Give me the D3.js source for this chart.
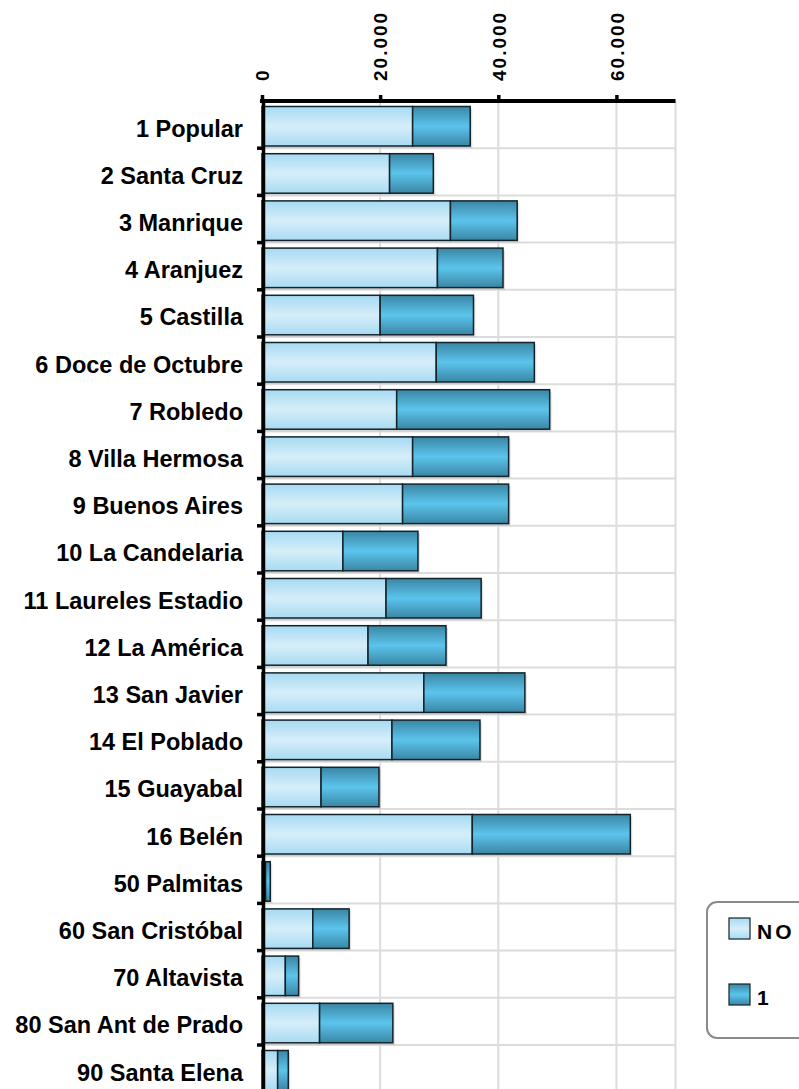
<!DOCTYPE html>
<html>
<head>
<meta charset="utf-8">
<script src="https://cdn.jsdelivr.net/npm/d3@7"></script>
<style>
  body { margin: 0; background: #fff; }
  svg { display: block; font-family: "Liberation Sans", Arial, sans-serif; }
</style>
</head>
<body>
<svg id="chart" width="799" height="1089"></svg>
<script>
// comunas / corregimientos
const categories = [
  "1 Popular", "2 Santa Cruz", "3 Manrique", "4 Aranjuez", "5 Castilla",
  "6 Doce de Octubre", "7 Robledo", "8 Villa Hermosa", "9 Buenos Aires",
  "10 La Candelaria", "11 Laureles Estadio", "12 La América", "13 San Javier",
  "14 El Poblado", "15 Guayabal", "16 Belén", "50 Palmitas", "60 San Cristóbal",
  "70 Altavista", "80 San Ant de Prado", "90 Santa Elena"
];
const seriesNames = ["NO", "1"];
const noValues = [25500, 21600, 31900, 29700, 20000, 29500, 22800, 25500, 23800,
  13700, 21000, 17950, 27400, 22000, 10000, 35600, 600, 8600, 3950, 9750, 2650];
const oneValues = [9750, 7400, 11300, 11100, 15800, 16600, 25900, 16250, 17950,
  12700, 16100, 13200, 17100, 14900, 9800, 26750, 800, 6150, 2250, 12400, 1800];
const tickValues = [0, 20000, 40000, 60000];
const xMax = 70000;

class StackedBar {
  constructor(_config) {
    this.config = {
      parentElement: _config.parentElement,
      rowHeight: _config.rowHeight || 47.2
    };
    this.config.margin = _config.margin || { top: 101, left: 262 };
    this.initVis();
  }

  initVis() {
    let vis = this;
    vis.svg = d3.select(vis.config.parentElement);

    vis.data = categories.map((c, i) => ({ cat: c, NO: noValues[i], "1": oneValues[i] }));

    vis.xScale = d3.scaleLinear().domain([0, xMax]).range([vis.config.margin.left, 675.5]);
    vis.yScale = d3.scaleBand()
      .domain(categories)
      .range([vis.config.margin.top, vis.config.margin.top + categories.length * vis.config.rowHeight]);

    vis.fmt = d3.formatLocale({ decimal: ",", thousands: ".", grouping: [3], currency: ["$", ""] }).format(",");

    // gradients for the bars
    let defs = vis.svg.append("defs");
    let grads = {
      NO: ["#a6daf2", "#d6eef9", "#a9dbf2"],
      "1": ["#3a86a4", "#5cc4ec", "#3a86a4"]
    };
    seriesNames.forEach((k, i) => {
      let g = defs.append("linearGradient")
        .attr("id", "grad" + i)
        .attr("x1", 0).attr("y1", 0).attr("x2", 0).attr("y2", 1);
      g.append("stop").attr("offset", "0%").attr("stop-color", grads[k][0]);
      g.append("stop").attr("offset", "50%").attr("stop-color", grads[k][1]);
      g.append("stop").attr("offset", "100%").attr("stop-color", grads[k][2]);
    });

    vis.render();
    vis.drawLegend();
  }

  render() {
    let vis = this;
    let x = vis.xScale, y = vis.yScale;
    let bottom = y.range()[1];

    // grid
    let grid = vis.svg.append("g").attr("stroke", "#dcdcdc").attr("stroke-width", 2);
    grid.selectAll(".vgrid")
      .data(tickValues.slice(1).concat([xMax]))
      .enter().append("line")
      .attr("x1", d => x(d)).attr("x2", d => x(d))
      .attr("y1", vis.config.margin.top).attr("y2", bottom);
    grid.selectAll(".hgrid")
      .data(categories.slice(1))
      .enter().append("line")
      .attr("x1", x(0)).attr("x2", x(xMax))
      .attr("y1", d => y(d)).attr("y2", d => y(d));

    let stacked = d3.stack().keys(seriesNames)(vis.data);
    let barTop = 5.5, barH = 39.5;

    // soft shadow
    vis.svg.append("g").selectAll("rect")
      .data(vis.data)
      .enter().append("rect")
      .attr("x", x(0) + 2)
      .attr("y", d => y(d.cat) + barTop + 2)
      .attr("width", d => x(d.NO + d["1"]) - x(0))
      .attr("height", barH)
      .attr("fill", "#000")
      .attr("fill-opacity", 0.12);

    vis.svg.selectAll(".series")
      .data(stacked)
      .enter().append("g")
      .attr("class", "series")
      .attr("fill", (d, i) => `url(#grad${i})`)
      .selectAll("rect")
      .data(d => d)
      .enter().append("rect")
      .attr("x", d => x(d[0]))
      .attr("y", d => y(d.data.cat) + barTop)
      .attr("width", d => x(d[1]) - x(d[0]))
      .attr("height", barH)
      .attr("stroke", "#13232b")
      .attr("stroke-width", 1.5);

    // top axis
    let axis = vis.svg.append("g")
      .attr("transform", `translate(0,${vis.config.margin.top})`)
      .call(d3.axisTop(x).tickValues(tickValues).tickSize(6).tickSizeOuter(0).tickFormat(vis.fmt));
    axis.select(".domain").attr("stroke", "#000").attr("stroke-width", 4)
      .attr("d", `M${x(0) - 2},0H${x(xMax)}`);
    axis.selectAll(".tick line").attr("stroke", "#000").attr("stroke-width", 3.5);
    axis.selectAll(".tick text")
      .attr("transform", "rotate(-90)")
      .attr("x", 20).attr("y", 0).attr("dy", "0.36em")
      .attr("text-anchor", "start")
      .attr("fill", "#000")
      .style("font-size", "19px")
      .style("font-weight", "bold")
      .style("letter-spacing", "2px")
      .style("font-family", "Liberation Sans, Arial, sans-serif");

    // left axis
    let left = vis.svg.append("g");
    left.append("line")
      .attr("x1", x(0) + 1.5).attr("x2", x(0) + 1.5)
      .attr("y1", vis.config.margin.top).attr("y2", bottom)
      .attr("stroke", "#000").attr("stroke-width", 3.5);
    left.selectAll(".ltick")
      .data(categories.slice(1))
      .enter().append("line")
      .attr("x1", x(0) - 5).attr("x2", x(0) + 2)
      .attr("y1", d => y(d)).attr("y2", d => y(d))
      .attr("stroke", "#000").attr("stroke-width", 3.5);
    left.selectAll(".label")
      .data(categories)
      .enter().append("text")
      .attr("x", 243)
      .attr("y", d => y(d) + y.bandwidth() / 2 + 3.5)
      .attr("dy", "0.36em")
      .attr("text-anchor", "end")
      .style("font-size", "23.5px")
      .style("font-weight", "bold")
      .attr("fill", "#000")
      .text(d => d);
  }

  drawLegend() {
    let vis = this;
    let legend = vis.svg.append("g");
    legend.append("rect")
      .attr("x", 707).attr("y", 902)
      .attr("width", 130).attr("height", 136)
      .attr("rx", 10)
      .attr("fill", "#fff")
      .attr("stroke", "#8a8a8a")
      .attr("stroke-width", 2);
    let items = legend.selectAll(".item")
      .data(seriesNames)
      .enter().append("g")
      .attr("transform", (d, i) => `translate(729,${918 + i * 66})`);
    items.append("rect")
      .attr("width", 21).attr("height", 21)
      .attr("fill", (d, i) => `url(#grad${i})`)
      .attr("stroke", "#13232b").attr("stroke-width", 1.2);
    items.append("text")
      .attr("x", 28).attr("y", 21)
      .style("font-size", "21px")
      .style("font-weight", "bold")
      .style("letter-spacing", "3px")
      .attr("fill", "#000")
      .text(d => d);
  }
}

new StackedBar({ parentElement: "#chart" });
</script>
</body>
</html>
